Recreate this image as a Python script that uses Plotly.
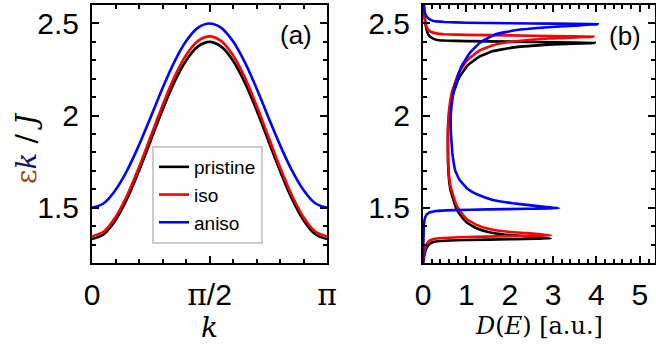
import math
import plotly.graph_objects as go

# ---------------- data ----------------
k_vals = [0, 0.05, 0.10, 0.15, 0.20, 0.25, 0.30, 0.35, 0.40, 0.45, 0.50,
          0.55, 0.60, 0.65, 0.70, 0.75, 0.80, 0.85, 0.90, 0.95, 1.0]  # in units of pi
e_pristine = [1.330, 1.356, 1.432, 1.550, 1.700, 1.865, 2.030, 2.180, 2.298, 2.374, 2.400,
              2.374, 2.298, 2.180, 2.030, 1.865, 1.700, 1.550, 1.432, 1.356, 1.330]
e_iso = [1.345, 1.371, 1.449, 1.569, 1.720, 1.888, 2.055, 2.207, 2.327, 2.404, 2.430,
         2.404, 2.327, 2.207, 2.055, 1.888, 1.720, 1.569, 1.449, 1.371, 1.345]
e_aniso = [1.500, 1.524, 1.596, 1.704, 1.840, 1.992, 2.148, 2.290, 2.403, 2.476, 2.500,
           2.476, 2.403, 2.290, 2.148, 1.992, 1.840, 1.704, 1.596, 1.524, 1.500]

dos_pristine_d = [0.0, 0.03, 0.06, 0.10, 0.16, 0.25, 0.5, 1.0, 2.0, 2.95,
                  2.4, 1.86, 1.48, 1.22, 1.01, 0.86, 0.76, 0.63, 0.585, 0.575, 0.575, 0.60, 0.67,
                  0.82, 1.02, 1.30, 1.62, 2.10, 2.90, 3.96,
                  3.0, 2.0, 1.0, 0.5, 0.3, 0.18, 0.12, 0.07, 0.04, 0.02]
dos_pristine_e = [1.20, 1.24, 1.27, 1.29, 1.305, 1.315, 1.321, 1.325, 1.329, 1.333,
                  1.345, 1.355, 1.37, 1.39, 1.42, 1.46, 1.50, 1.60, 1.70, 1.80, 1.90, 2.00, 2.10,
                  2.20, 2.27, 2.32, 2.35, 2.37, 2.385, 2.394,
                  2.398, 2.401, 2.404, 2.407, 2.412, 2.425, 2.44, 2.48, 2.53, 2.60]

dos_iso_d = [0.0, 0.025, 0.05, 0.09, 0.15, 0.3, 0.8, 2.0, 2.95,
             2.4, 1.86, 1.48, 1.22, 1.01, 0.86, 0.76, 0.63, 0.585, 0.575, 0.575, 0.60, 0.67,
             0.82, 1.02, 1.30, 1.62, 2.10, 2.90, 3.93,
             3.0, 2.0, 1.0, 0.5, 0.3, 0.18, 0.12, 0.07, 0.04, 0.02]
dos_iso_e = [1.20, 1.25, 1.28, 1.305, 1.322, 1.333, 1.340, 1.346, 1.350,
             1.362, 1.372, 1.3875, 1.408, 1.438, 1.479, 1.520, 1.621, 1.7225, 1.824, 1.9255, 2.027, 2.1285,
             2.23, 2.301, 2.352, 2.382, 2.402, 2.418, 2.428,
             2.432, 2.435, 2.438, 2.441, 2.446, 2.455, 2.465, 2.49, 2.53, 2.60]

dos_aniso_d = [0.0, 0.008, 0.02, 0.04, 0.08, 0.15, 0.3, 0.7, 1.5, 2.4, 3.14,
               2.6, 2.07, 1.61, 1.27, 1.04, 0.845, 0.745, 0.71, 0.676, 0.645, 0.64, 0.676,
               0.72, 0.78, 0.89, 1.08, 1.31, 1.66, 2.16, 2.8, 3.5, 4.03,
               3.0, 2.0, 1.0, 0.5, 0.24, 0.12, 0.08, 0.04, 0.02, 0.01]
dos_aniso_e = [1.20, 1.30, 1.40, 1.44, 1.462, 1.474, 1.482, 1.487, 1.491, 1.494, 1.498,
               1.510, 1.524, 1.542, 1.57, 1.60, 1.65, 1.70, 1.74, 1.80, 1.90, 2.00, 2.087,
               2.15, 2.196, 2.268, 2.34, 2.395, 2.44, 2.464, 2.478, 2.488, 2.495,
               2.499, 2.501, 2.504, 2.508, 2.513, 2.528, 2.54, 2.56, 2.585, 2.60]

series_names = ["pristine", "iso", "aniso"]
series_colors = ["#000000", "#ff0000", "#0000ff"]

# ---------------- figure ----------------
W, H = 656, 350
fig = go.Figure()

disp = [e_pristine, e_iso, e_aniso]
dos = [(dos_pristine_d, dos_pristine_e), (dos_iso_d, dos_iso_e), (dos_aniso_d, dos_aniso_e)]
kx = [v * math.pi for v in k_vals]

for name, col, ev in zip(series_names, series_colors, disp):
    fig.add_trace(go.Scatter(x=kx, y=ev, mode="lines", name=name,
                             line=dict(color=col, width=2.6, shape="spline", smoothing=1.0),
                             xaxis="x", yaxis="y"))
for name, col, (dd, de) in zip(series_names, series_colors, dos):
    fig.add_trace(go.Scatter(x=dd, y=de, mode="lines", name=name, showlegend=False,
                             line=dict(color=col, width=2.6, shape="spline", smoothing=0.3),
                             xaxis="x2", yaxis="y2"))

ydom = [1 - 263 / H, 1 - 5 / H]
sans = "Liberation Sans, Arial, sans-serif"
tickfont = dict(family=sans, size=30, color="black")
common = dict(showline=True, linecolor="black", linewidth=2, mirror="allticks",
              ticks="inside", ticklen=7, tickwidth=2, tickcolor="black", automargin=False,
              showgrid=False, zeroline=False, tickfont=tickfont)
minor_y = dict(ticks="inside", ticklen=4, tickwidth=1.5, tickcolor="black", dtick=0.1, tick0=1.2, showgrid=False)

fig.update_layout(
    template="none",
    width=W, height=H, margin=dict(l=0, r=0, t=0, b=0, autoexpand=False),
    paper_bgcolor="white", plot_bgcolor="white",
    xaxis=dict(domain=[92 / W, 327 / W], range=[0, math.pi], tickmode="array",
               tickvals=[0, math.pi / 2, math.pi],
               ticktext=["0", "<span style='font-family:DejaVu Serif'>π</span>/2",
                         "<span style='font-family:DejaVu Serif'>π</span>"],
               ticklabelstandoff=4,
               minor=dict(ticks="inside", ticklen=4, tickwidth=1.5, tickcolor="black",
                          dtick=math.pi / 10, tick0=0, showgrid=False),
               anchor="y", **common),
    yaxis=dict(domain=ydom, range=[1.2, 2.6], tickmode="array", tickvals=[1.5, 2, 2.5],
               ticktext=["1.5", "2", "2.5"], minor=minor_y, anchor="x", ticklabelstandoff=5, **common),
    xaxis2=dict(domain=[423 / W, 655 / W], range=[0, 5.35], dtick=1, tick0=0,
                ticklabelstandoff=4,
                minor=dict(ticks="inside", ticklen=4, tickwidth=1.5, tickcolor="black",
                           dtick=0.2, tick0=0, showgrid=False),
                anchor="y2", **common),
    yaxis2=dict(domain=ydom, range=[1.2, 2.6], tickmode="array", tickvals=[1.5, 2, 2.5],
                ticktext=["1.5", "2", "2.5"], minor=minor_y, anchor="x2", ticklabelstandoff=5, **common),
    legend=dict(x=152 / W, y=1 - 146 / H, xanchor="left", yanchor="top",
                bgcolor="white", bordercolor="#cccccc", borderwidth=2,
                font=dict(family=sans, size=19, color="black"),
                tracegroupgap=0, itemwidth=30),
    showlegend=True,
)

serif = "DejaVu Serif, Liberation Serif, serif"
ann = dict(xref="paper", yref="paper", showarrow=False, xanchor="center", yanchor="middle")
fig.add_annotation(x=209.5 / W, y=1 - 327 / H, text="<i>k</i>",
                   font=dict(family=serif, size=28, color="black"), **ann)
fig.add_annotation(x=539 / W, y=1 - 326 / H, text="<i>D</i>(<i>E</i>) [a.u.]",
                   font=dict(family=serif, size=24, color="black"), **ann)
fig.add_annotation(x=26 / W, y=1 - 148 / H, textangle=-90,
                   text="<span style='color:#9a4a10'>ε</span><i><span style='color:#151560'>k</span></i> / <i>J</i>",
                   font=dict(family=serif, size=28, color="black"), **ann)
fig.add_annotation(x=296 / W, y=1 - 35 / H, text="(a)",
                   font=dict(family=sans, size=26, color="black"), **ann)
fig.add_annotation(x=625 / W, y=1 - 36 / H, text="(b)",
                   font=dict(family=sans, size=26, color="black"), **ann)

fig.write_html("out.html")
